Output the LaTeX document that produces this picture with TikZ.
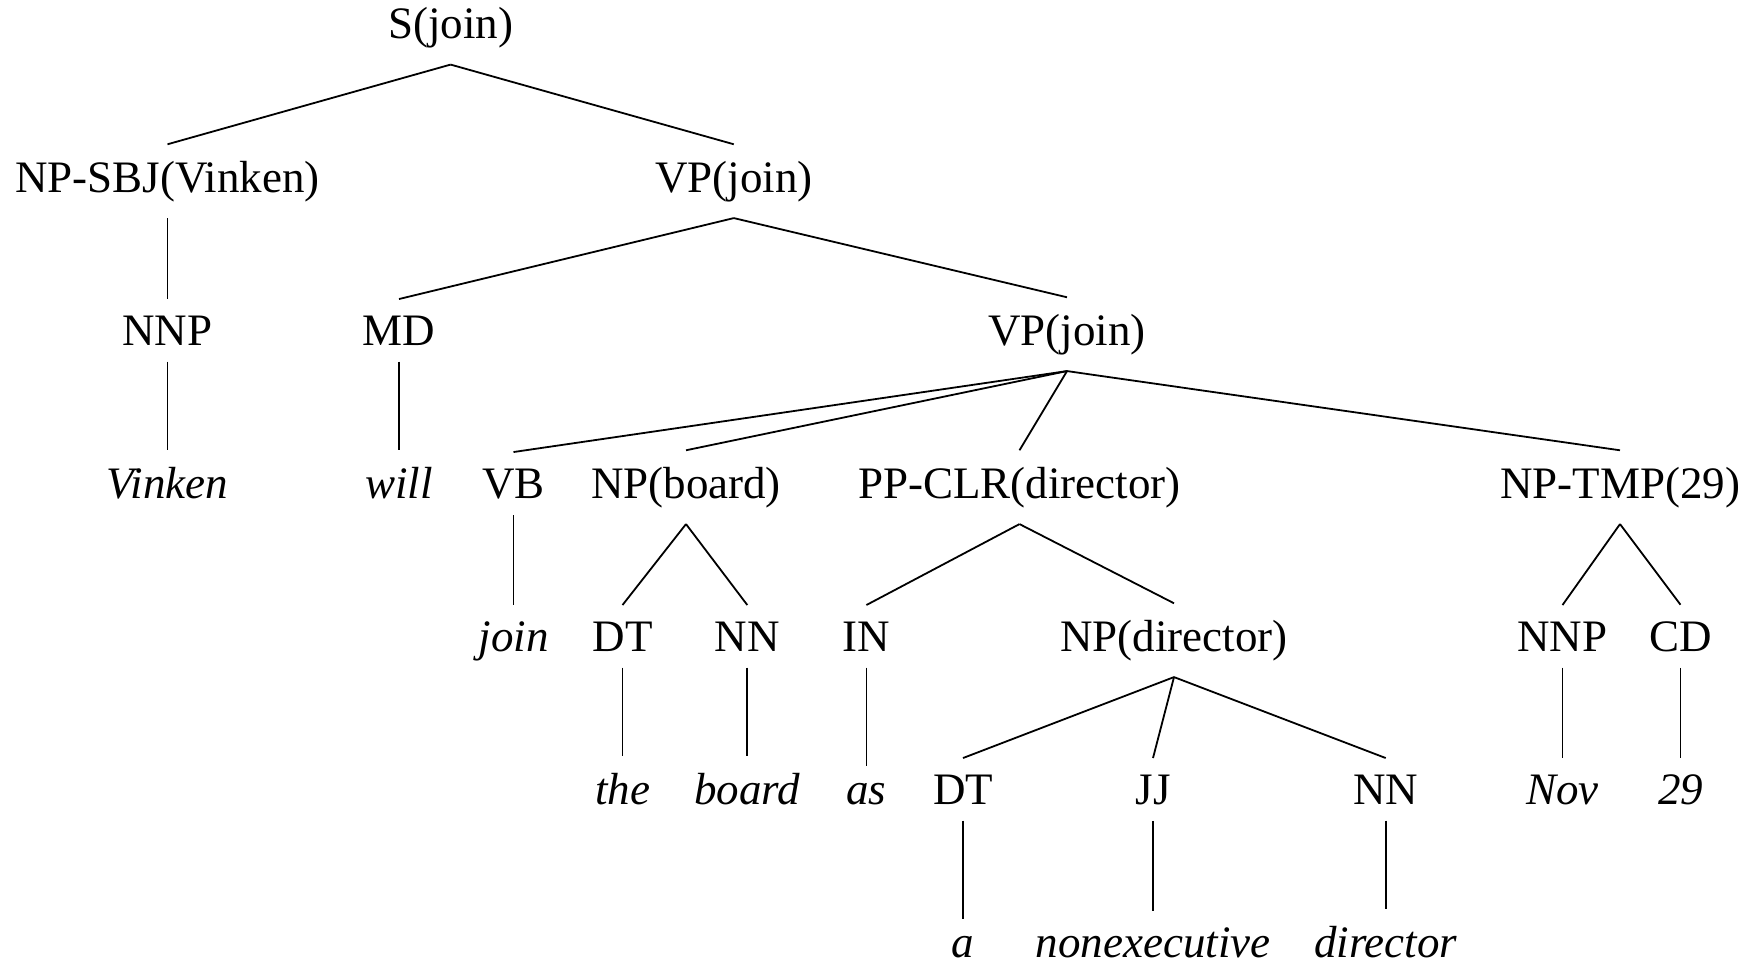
\documentclass[tikz,border=0pt]{standalone}
\usepackage{fontspec}
\setmainfont{Liberation Serif}
\begin{document}
\begin{tikzpicture}[x=1pt,y=1pt,
  lbl/.style={anchor=base,inner xsep=0pt,inner ysep=16.5pt,outer sep=0pt,font=\fontsize{45}{54}\selectfont},
  word/.style={lbl,font=\fontsize{45}{54}\selectfont\itshape},
  edge/.style={line width=1.8pt}]
\useasboundingbox (0,0) rectangle (1762,-964);
% level 0
\node[lbl] (S) at (450.6,-38.5) {S(join)};
% level 1
\node[lbl] (NPSBJ) at (167.5,-192) {NP-SBJ(Vinken)};
\node[lbl] (VPa) at (733.8,-192) {VP(join)};
% level 2
\node[lbl] (NNPa) at (167.5,-345) {NNP};
\node[lbl] (MD) at (399,-345) {MD};
\node[lbl] (VPb) at (1067,-345) {VP(join)};
% level 3
\node[word] (Vinken) at (167.5,-498) {Vinken};
\node[word] (will) at (399,-498) {will};
\node[lbl] (VB) at (513.5,-498) {VB};
\node[lbl] (NPb) at (686,-498) {NP(board)};
\node[lbl] (PP) at (1019.5,-498) {PP-CLR(director)};
\node[lbl] (NPT) at (1620,-498) {NP-TMP(29)};
% level 4
\node[word] (join) at (513.5,-651) {join};
\node[lbl] (DTa) at (622.5,-651) {DT};
\node[lbl] (NNa) at (747.3,-651) {NN};
\node[lbl] (IN) at (866.4,-651) {IN};
\node[lbl] (NPd) at (1174,-651) {NP(director)};
\node[lbl] (NNPb) at (1562.5,-651) {NNP};
\node[lbl] (CD) at (1680.5,-651) {CD};
% level 5
\node[word] (the) at (622.5,-804) {the};
\node[word] (board) at (747.3,-804) {board};
\node[word] (as) at (866.4,-804) {as};
\node[lbl] (DTb) at (963,-804) {DT};
\node[lbl] (JJ) at (1153,-804) {JJ};
\node[lbl] (NNb) at (1385.7,-804) {NN};
\node[word] (Nov) at (1562.5,-804) {Nov};
\node[word] (n29) at (1680.5,-804) {29};
% level 6
\node[word] (a) at (963,-957) {a};
\node[word] (nonexec) at (1153,-957) {nonexecutive};
\node[word] (director) at (1385.7,-957) {director};
% edges
\draw[edge] (S.south) -- (NPSBJ.north);
\draw[edge] (S.south) -- (VPa.north);
\draw[edge] (NPSBJ.south) -- (NNPa.north);
\draw[edge] (NNPa.south) -- (Vinken.north);
\draw[edge] (VPa.south) -- (MD.north);
\draw[edge] (VPa.south) -- (VPb.north);
\draw[edge] (MD.south) -- (will.north);
\draw[edge] (VPb.south) -- (VB.north);
\draw[edge] (VPb.south) -- (NPb.north);
\draw[edge] (VPb.south) -- (PP.north);
\draw[edge] (VPb.south) -- (NPT.north);
\draw[edge] (VB.south) -- (join.north);
\draw[edge] (NPb.south) -- (DTa.north);
\draw[edge] (NPb.south) -- (NNa.north);
\draw[edge] (DTa.south) -- (the.north);
\draw[edge] (NNa.south) -- (board.north);
\draw[edge] (PP.south) -- (IN.north);
\draw[edge] (PP.south) -- (NPd.north);
\draw[edge] (IN.south) -- (as.north);
\draw[edge] (NPd.south) -- (DTb.north);
\draw[edge] (NPd.south) -- (JJ.north);
\draw[edge] (NPd.south) -- (NNb.north);
\draw[edge] (DTb.south) -- (a.north);
\draw[edge] (JJ.south) -- (nonexec.north);
\draw[edge] (NNb.south) -- (director.north);
\draw[edge] (NPT.south) -- (NNPb.north);
\draw[edge] (NPT.south) -- (CD.north);
\draw[edge] (NNPb.south) -- (Nov.north);
\draw[edge] (CD.south) -- (n29.north);
\end{tikzpicture}
\end{document}
